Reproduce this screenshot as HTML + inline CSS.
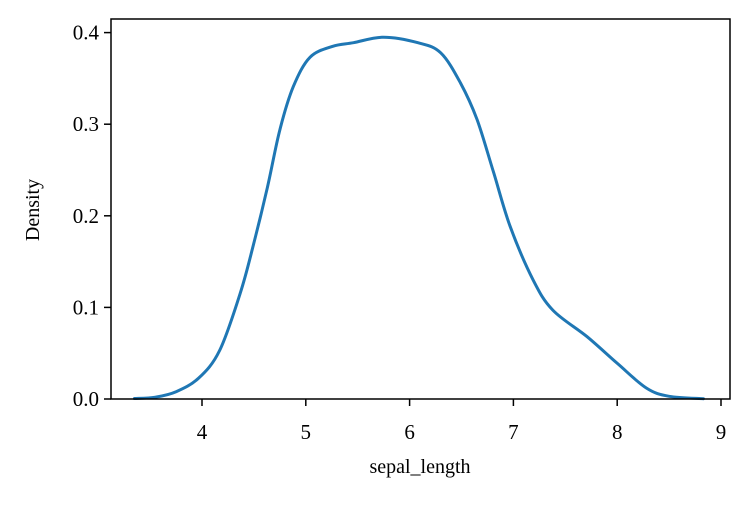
<!DOCTYPE html>
<html><head><meta charset="utf-8"><style>
body{margin:0;background:#fff}
svg text{font-family:"Liberation Serif",serif;fill:#000}
</style></head><body>
<svg id="chart" width="750" height="500" xmlns="http://www.w3.org/2000/svg"></svg>
<script>
const xTicks=[4,5,6,7,8,9];
const yTicks=[0.0,0.1,0.2,0.3,0.4];
const yTickLabels=["0.0","0.1","0.2","0.3","0.4"];
const xs=[3.35,3.55,3.75,3.97,4.17,4.37,4.49,4.63,4.75,4.88,5.04,5.26,5.46,5.75,6.08,6.3,6.49,6.65,6.81,6.97,7.19,7.38,7.71,8.0,8.28,8.5,8.83];
const density=[0.0005,0.002,0.008,0.023,0.053,0.116,0.166,0.231,0.294,0.341,0.373,0.385,0.389,0.395,0.389,0.378,0.345,0.305,0.247,0.188,0.13,0.097,0.068,0.039,0.012,0.003,0.0003];
const L=111,R=730,T=19,B=399;
const sx=v=>202+(v-4)*103.8;
const sy=v=>B-v*916;
const svg=document.getElementById('chart');
const NS='http://www.w3.org/2000/svg';
function mk(t,a){const e=document.createElementNS(NS,t);for(const k in a)e.setAttribute(k,a[k]);svg.appendChild(e);return e;}
const P=xs.map((x,i)=>[sx(x),sy(density[i])]);
let d='M'+P[0][0].toFixed(1)+','+P[0][1].toFixed(1);
for(let i=0;i<P.length-1;i++){
 const p0=P[Math.max(0,i-1)],p1=P[i],p2=P[i+1],p3=P[Math.min(P.length-1,i+2)];
 const c1=[p1[0]+(p2[0]-p0[0])/6,p1[1]+(p2[1]-p0[1])/6];
 const c2=[p2[0]-(p3[0]-p1[0])/6,p2[1]-(p3[1]-p1[1])/6];
 d+='C'+c1.map(v=>v.toFixed(1)).join(',')+' '+c2.map(v=>v.toFixed(1)).join(',')+' '+p2.map(v=>v.toFixed(1)).join(',');
}
const line=mk('path',{d:d,fill:'none',stroke:'#1f77b4','stroke-width':3,'stroke-linejoin':'round','stroke-linecap':'round'});


const frame=mk('rect',{x:L,y:T,width:R-L,height:B-T,fill:'none',stroke:'#000','stroke-width':1.5});


xTicks.forEach(v=>{
 const x=sx(v);
 const tk=mk('line',{x1:x,x2:x,y1:B,y2:B+7,stroke:'#000','stroke-width':1.5});
 
 
 const t=mk('text',{x:x,y:B+40,'font-size':21,'text-anchor':'middle'});t.textContent=v;
 
 
});
yTicks.forEach((v,i)=>{
 const y=sy(v);
 const tk=mk('line',{x1:L-7,x2:L,y1:y,y2:y,stroke:'#000','stroke-width':1.5});
 
 
 const t=mk('text',{x:L-12,y:y+7,'font-size':21,'text-anchor':'end'});t.textContent=yTickLabels[i];
 
 
});
const xt=mk('text',{x:420,y:473,'font-size':20,'text-anchor':'middle'});xt.textContent='sepal_length';


const yt=mk('text',{x:0,y:0,'font-size':20,'text-anchor':'middle',transform:'translate(39,210) rotate(-90)'});yt.textContent='Density';


</script>
</body></html>
